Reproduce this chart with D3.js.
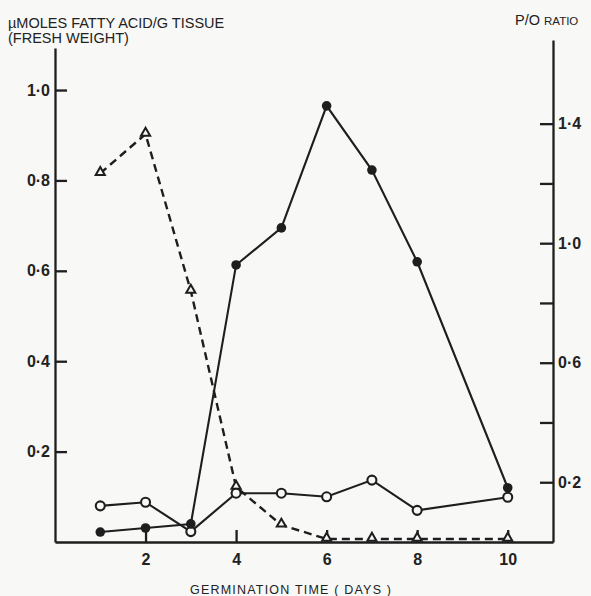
<!DOCTYPE html>
<html>
<head>
<meta charset="utf-8">
<script src="https://cdn.jsdelivr.net/npm/d3@7"></script>
<style>
  body { margin: 0; background: #f8f8f6; }
  svg { display: block; }
  text { font-family: "Liberation Sans", Arial, sans-serif; fill: #222; }
</style>
</head>
<body>
<svg width="591" height="596"></svg>
<script>
const days = [1, 2, 3, 4, 5, 6, 7, 8, 10];
// filled circles, left axis
const fattyAcid = [0.022, 0.031, 0.04, 0.613, 0.695, 0.965, 0.823, 0.62, 0.12];
// open circles, left axis
const openSeries = [0.08, 0.088, 0.023, 0.108, 0.108, 0.1, 0.137, 0.07, 0.099];
// triangles, right axis (P/O ratio)
const poRatio = [1.234, 1.365, 0.84, 0.184, 0.057, 0.01, 0.01, 0.01, 0.01];

const xTicks = [2, 4, 6, 8, 10];
const leftTicks = [0.2, 0.4, 0.6, 0.8, 1.0];
const rightTicks = [0.2, 0.4, 0.6, 0.8, 1.0, 1.2, 1.4];
const rightLabelled = [0.2, 0.6, 1.0, 1.4];

const ink = '#1e1e1e';
const bg = '#f8f8f6';
const svg = d3.select('svg');

const x = d3.scaleLinear().domain([0, 11]).range([55, 553]);
const yL = d3.scaleLinear().domain([0, 1.093]).range([542, 48]);
const yR = d3.scaleLinear().domain([0, 1.68]).range([542, 40]);

const fmt = v => d3.format('.1f')(v).replace('.', '·');

const styleAxis = g => {
    g.select('.domain').attr('stroke', ink).attr('stroke-width', 2.3);
    g.selectAll('.tick line').attr('stroke', ink).attr('stroke-width', 2.3);
    g.selectAll('.tick text').attr('fill', ink)
        .style('font-family', '"Liberation Sans", Arial, sans-serif')
        .style('font-weight', 'bold').style('font-size', '16px');
};

svg.append('g').attr('transform', 'translate(0,542)')
    .call(d3.axisBottom(x).tickValues(xTicks).tickSize(-12).tickPadding(12).tickSizeOuter(0).tickFormat(d3.format('d')))
    .call(styleAxis);

svg.append('g').attr('transform', 'translate(55,0)')
    .call(d3.axisLeft(yL).tickValues(leftTicks).tickSize(-12).tickPadding(5).tickSizeOuter(0).tickFormat(fmt))
    .call(styleAxis);

svg.append('g').attr('transform', 'translate(553,0)')
    .call(d3.axisRight(yR).tickValues(rightTicks).tickSize(-13).tickPadding(5).tickSizeOuter(0)
        .tickFormat(v => rightLabelled.some(r => Math.abs(r - v) < 1e-6) ? fmt(v) : ''))
    .call(styleAxis);

const line = y => d3.line().x((d, i) => x(days[i])).y(d => y(d));

svg.append('path').datum(poRatio).attr('d', line(yR))
    .attr('fill', 'none').attr('stroke', ink).attr('stroke-width', 2.4).attr('stroke-dasharray', '8,5');
svg.append('path').datum(openSeries).attr('d', line(yL))
    .attr('fill', 'none').attr('stroke', ink).attr('stroke-width', 2.1);
svg.append('path').datum(fattyAcid).attr('d', line(yL))
    .attr('fill', 'none').attr('stroke', ink).attr('stroke-width', 2.1);

svg.selectAll('.tri').data(poRatio).enter().append('path')
    .attr('d', d3.symbol().type(d3.symbolTriangle).size(36))
    .attr('transform', (d, i) => `translate(${x(days[i])},${yR(d) - 1})`)
    .attr('fill', bg).attr('stroke', ink).attr('stroke-width', 2);

svg.selectAll('.open').data(openSeries).enter().append('circle')
    .attr('cx', (d, i) => x(days[i])).attr('cy', d => yL(d)).attr('r', 4.5)
    .attr('fill', bg).attr('stroke', ink).attr('stroke-width', 2.1);

svg.selectAll('.filled').data(fattyAcid).enter().append('circle')
    .attr('cx', (d, i) => x(days[i])).attr('cy', d => yL(d)).attr('r', 4.8)
    .attr('fill', ink);

svg.append('text').attr('x', 8).attr('y', 28).style('font-size', '14.5px').text('µMOLES FATTY ACID/G TISSUE');
svg.append('text').attr('x', 8).attr('y', 43).style('font-size', '14.5px').text('(FRESH WEIGHT)');

const po = svg.append('text').attr('x', 515).attr('y', 25).style('font-size', '14.5px');
po.append('tspan').text('P/O ');
po.append('tspan').style('font-size', '11.5px').text('RATIO');

svg.append('text').attr('x', 190).attr('y', 594).style('font-size', '12.5px').style('letter-spacing', '1.2px')
    .text('GERMINATION TIME ( DAYS )');
</script>
</body>
</html>
